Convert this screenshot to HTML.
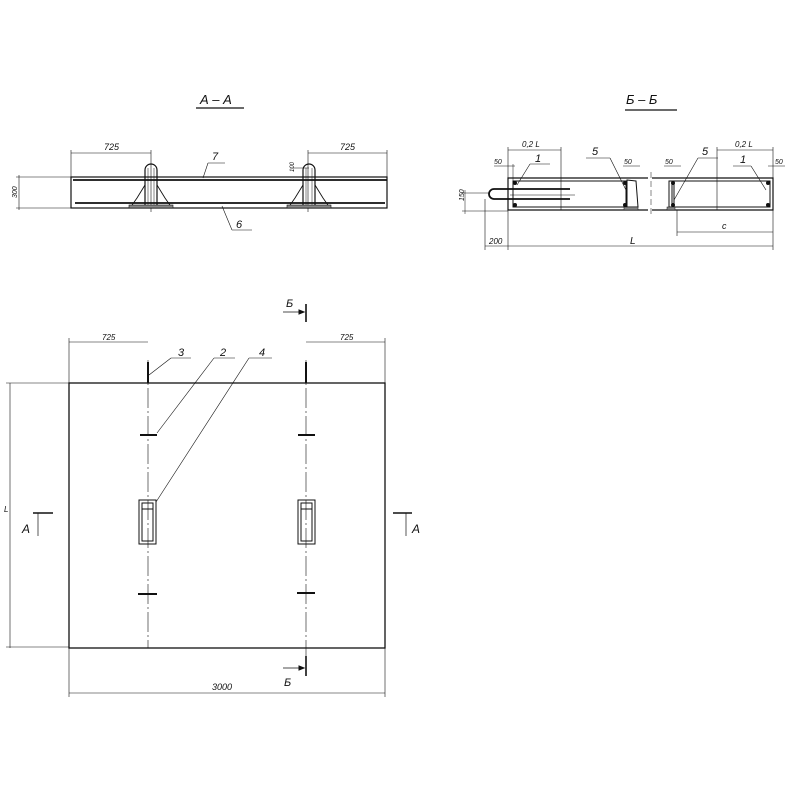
<!DOCTYPE html>
<html><head><meta charset="utf-8"><style>
html,body{margin:0;padding:0;background:#fff;}
svg{display:block}
text{font-family:"Liberation Sans",sans-serif;font-style:italic;fill:#111}
</style></head><body>
<svg width="800" height="800" viewBox="0 0 800 800" xmlns="http://www.w3.org/2000/svg">
<g stroke="#111" fill="none" stroke-width="1">
<!-- ===== A-A ===== -->
<text x="200" y="104" font-size="13" stroke="none">А – А</text>
<line x1="196" y1="108" x2="244" y2="108" stroke-width="1.3"/>
<rect x="71" y="177" width="316" height="31" stroke-width="1.2"/>
<line x1="73" y1="180" x2="387" y2="180" stroke-width="1.8"/>
<line x1="75" y1="203" x2="385" y2="203" stroke-width="1.8"/>
<!-- dims -->
<line x1="71" y1="150" x2="71" y2="177" stroke-width="0.6"/>
<line x1="71" y1="153" x2="151" y2="153" stroke-width="0.6"/>
<line x1="151" y1="150" x2="151" y2="212" stroke-width="0.6"/>
<text x="104" y="150" font-size="9" stroke="none">725</text>
<line x1="308" y1="150" x2="308" y2="212" stroke-width="0.6"/>
<line x1="308" y1="153" x2="387" y2="153" stroke-width="0.6"/>
<line x1="387" y1="150" x2="387" y2="177" stroke-width="0.6"/>
<text x="340" y="150" font-size="9" stroke="none">725</text>
<line x1="16" y1="177" x2="71" y2="177" stroke-width="0.6"/>
<line x1="16" y1="208" x2="71" y2="208" stroke-width="0.6"/>
<line x1="19" y1="175" x2="19" y2="210" stroke-width="0.6"/>
<text x="13" y="202" font-size="7" stroke="none" transform="rotate(-90 13 198)">300</text>
<!-- studs -->
<g id="stud">
<path d="M145 206 V170 A6 6 0 0 1 157 170 V206" stroke-width="1.2"/>
<line x1="148" y1="168" x2="148" y2="206" stroke-width="0.5"/>
<line x1="154" y1="168" x2="154" y2="206" stroke-width="0.5"/>
<path d="M145 185 L137 198 L130 208 H172 L165 198 L157 185" stroke-width="0.9"/>
<rect x="129" y="205" width="44" height="3" fill="#888" stroke-width="0.6"/>
</g>
<use href="#stud" x="158"/>
<!-- leaders -->
<line x1="203" y1="178" x2="208" y2="163" stroke-width="0.6"/>
<line x1="208" y1="163" x2="225" y2="163" stroke-width="0.6"/>
<text x="212" y="160" font-size="11" stroke="none">7</text>
<line x1="222" y1="206" x2="232" y2="230" stroke-width="0.6"/>
<line x1="232" y1="230" x2="252" y2="230" stroke-width="0.6"/>
<text x="236" y="228" font-size="11" stroke="none">6</text>
<line x1="290" y1="168" x2="309" y2="168" stroke-width="0.5"/>
<text x="288" y="178" font-size="6" stroke="none" transform="rotate(-90 288 172)">100</text>

<!-- ===== Б-Б ===== -->
<text x="626" y="104" font-size="13" stroke="none">Б – Б</text>
<line x1="625" y1="110" x2="677" y2="110" stroke-width="1.3"/>
<path d="M648 178 H508 V210 H648" stroke-width="1.2"/>
<path d="M652 178 H773 V210 H652" stroke-width="1.2"/>
<line x1="651" y1="172" x2="651" y2="216" stroke-width="0.5" stroke-dasharray="6 3"/>
<rect x="513" y="181" width="113" height="26" stroke-width="1"/>
<rect x="672" y="181" width="98" height="26" stroke-width="1"/>
<path d="M627 180 L636 181 L638 207 L627 207 Z" stroke-width="1"/>
<path d="M669 181 L674 181 L674 207 L669 207 Z" stroke-width="1"/>
<rect x="624" y="207" width="14" height="3" fill="#888" stroke-width="0.5"/>
<rect x="667" y="207" width="8" height="3" fill="#888" stroke-width="0.5"/>
<!-- rebar loop -->
<path d="M570 189 H494 A5 5 0 0 0 494 199 H570" stroke-width="1.8"/>
<line x1="510" y1="195" x2="575" y2="195" stroke-width="0.5"/>
<circle cx="515" cy="183" r="1.5" fill="#111"/><circle cx="515" cy="205" r="1.5" fill="#111"/>
<circle cx="625" cy="183" r="1.5" fill="#111"/><circle cx="625" cy="205" r="1.5" fill="#111"/>
<circle cx="673" cy="183" r="1.5" fill="#111"/><circle cx="673" cy="205" r="1.5" fill="#111"/>
<circle cx="768" cy="183" r="1.5" fill="#111"/><circle cx="768" cy="205" r="1.5" fill="#111"/>
<!-- dims top -->
<line x1="508" y1="147" x2="508" y2="250" stroke-width="0.6"/>
<line x1="508" y1="150" x2="561" y2="150" stroke-width="0.6"/>
<line x1="561" y1="147" x2="561" y2="210" stroke-width="0.6"/>
<text x="522" y="147" font-size="8" stroke="none">0,2 L</text>
<line x1="717" y1="147" x2="717" y2="210" stroke-width="0.6"/>
<line x1="717" y1="150" x2="773" y2="150" stroke-width="0.6"/>
<line x1="773" y1="147" x2="773" y2="250" stroke-width="0.6"/>
<text x="735" y="147" font-size="8" stroke="none">0,2 L</text>
<line x1="494" y1="166" x2="515" y2="166" stroke-width="0.5"/>
<text x="494" y="164" font-size="7" stroke="none">50</text>
<line x1="513" y1="164" x2="513" y2="181" stroke-width="0.5"/>
<line x1="623" y1="166" x2="640" y2="166" stroke-width="0.5"/>
<text x="624" y="164" font-size="7" stroke="none">50</text>
<line x1="664" y1="166" x2="681" y2="166" stroke-width="0.5"/>
<text x="665" y="164" font-size="7" stroke="none">50</text>
<line x1="768" y1="166" x2="785" y2="166" stroke-width="0.5"/>
<text x="775" y="164" font-size="7" stroke="none">50</text>
<!-- leaders -->
<line x1="517" y1="185" x2="530" y2="164" stroke-width="0.6"/>
<line x1="530" y1="164" x2="550" y2="164" stroke-width="0.6"/>
<text x="535" y="162" font-size="11" stroke="none">1</text>
<line x1="626" y1="190" x2="610" y2="158" stroke-width="0.6"/>
<line x1="610" y1="158" x2="586" y2="158" stroke-width="0.6"/>
<text x="592" y="155" font-size="11" stroke="none">5</text>
<line x1="674" y1="200" x2="698" y2="158" stroke-width="0.6"/>
<line x1="698" y1="158" x2="718" y2="158" stroke-width="0.6"/>
<text x="702" y="155" font-size="11" stroke="none">5</text>
<line x1="766" y1="190" x2="751" y2="166" stroke-width="0.6"/>
<line x1="751" y1="166" x2="733" y2="166" stroke-width="0.6"/>
<text x="740" y="163" font-size="11" stroke="none">1</text>
<!-- left 150 -->
<line x1="462" y1="193" x2="490" y2="193" stroke-width="0.5"/>
<line x1="462" y1="211" x2="508" y2="211" stroke-width="0.5"/>
<line x1="465" y1="190" x2="465" y2="214" stroke-width="0.5"/>
<text x="461" y="206" font-size="7" stroke="none" transform="rotate(-90 460 202)">150</text>
<!-- bottom dims -->
<line x1="485" y1="199" x2="485" y2="250" stroke-width="0.6"/>
<line x1="485" y1="246" x2="773" y2="246" stroke-width="0.6"/>
<text x="489" y="244" font-size="8" stroke="none">200</text>
<text x="630" y="244" font-size="10" stroke="none">L</text>
<line x1="677" y1="210" x2="677" y2="236" stroke-width="0.6"/>
<line x1="677" y1="232" x2="773" y2="232" stroke-width="0.6"/>
<text x="722" y="229" font-size="9" stroke="none">c</text>

<!-- ===== PLAN ===== -->
<rect x="69" y="383" width="316" height="265" stroke-width="1.3"/>
<line x1="148" y1="360" x2="148" y2="648" stroke-width="0.6" stroke-dasharray="20 3 2 3"/>
<line x1="306" y1="360" x2="306" y2="660" stroke-width="0.6" stroke-dasharray="20 3 2 3"/>
<line x1="148" y1="362" x2="148" y2="383" stroke-width="2"/>
<line x1="306" y1="362" x2="306" y2="383" stroke-width="2"/>
<line x1="140" y1="435" x2="157" y2="435" stroke-width="2"/>
<line x1="298" y1="435" x2="315" y2="435" stroke-width="2"/>
<line x1="138" y1="594" x2="157" y2="594" stroke-width="2"/>
<line x1="297" y1="593" x2="315" y2="593" stroke-width="2"/>
<g stroke-width="1">
<rect x="139" y="500" width="17" height="44"/><rect x="142" y="503" width="11" height="38"/><line x1="142" y1="509" x2="153" y2="509"/>
<rect x="298" y="500" width="17" height="44"/><rect x="301" y="503" width="11" height="38"/><line x1="301" y1="509" x2="312" y2="509"/>
</g>
<!-- dims -->
<line x1="69" y1="338" x2="69" y2="383" stroke-width="0.6"/>
<line x1="69" y1="342" x2="148" y2="342" stroke-width="0.6"/>
<text x="102" y="340" font-size="8" stroke="none">725</text>
<line x1="385" y1="338" x2="385" y2="383" stroke-width="0.6"/>
<line x1="306" y1="342" x2="385" y2="342" stroke-width="0.6"/>
<text x="340" y="340" font-size="8" stroke="none">725</text>
<line x1="6" y1="383" x2="69" y2="383" stroke-width="0.6"/>
<line x1="10" y1="383" x2="10" y2="648" stroke-width="0.6"/>
<line x1="6" y1="647" x2="69" y2="647" stroke-width="0.6"/>
<text x="4" y="512" font-size="8" stroke="none">L</text>
<line x1="69" y1="648" x2="69" y2="697" stroke-width="0.6"/>
<line x1="385" y1="648" x2="385" y2="697" stroke-width="0.6"/>
<line x1="69" y1="693" x2="385" y2="693" stroke-width="0.6"/>
<text x="212" y="690" font-size="9" stroke="none">3000</text>
<!-- leaders -->
<line x1="149" y1="375" x2="171" y2="358" stroke-width="0.6"/>
<line x1="171" y1="358" x2="191" y2="358" stroke-width="0.6"/>
<text x="178" y="356" font-size="11" stroke="none">3</text>
<line x1="157" y1="433" x2="214" y2="358" stroke-width="0.6"/>
<line x1="214" y1="358" x2="235" y2="358" stroke-width="0.6"/>
<text x="220" y="356" font-size="11" stroke="none">2</text>
<line x1="156" y1="502" x2="249" y2="358" stroke-width="0.6"/>
<line x1="249" y1="358" x2="272" y2="358" stroke-width="0.6"/>
<text x="259" y="356" font-size="11" stroke="none">4</text>
<!-- section marks -->
<line x1="306" y1="304" x2="306" y2="322" stroke-width="1.6"/>
<line x1="283" y1="312" x2="304" y2="312" stroke-width="0.7"/>
<path d="M304 312 l-5 -2 v4 z" fill="#111"/>
<text x="286" y="307" font-size="11" stroke="none">Б</text>
<line x1="306" y1="656" x2="306" y2="676" stroke-width="1.6"/>
<line x1="283" y1="668" x2="304" y2="668" stroke-width="0.7"/>
<path d="M304 668 l-5 -2 v4 z" fill="#111"/>
<text x="284" y="686" font-size="11" stroke="none">Б</text>
<line x1="33" y1="513" x2="53" y2="513" stroke-width="1.6"/>
<line x1="38" y1="513" x2="38" y2="536" stroke-width="0.7"/>
<text x="22" y="533" font-size="12" stroke="none">A</text>
<line x1="393" y1="513" x2="412" y2="513" stroke-width="1.6"/>
<line x1="406" y1="513" x2="406" y2="536" stroke-width="0.7"/>
<text x="412" y="533" font-size="12" stroke="none">A</text>
</g>
</svg>
</body></html>
